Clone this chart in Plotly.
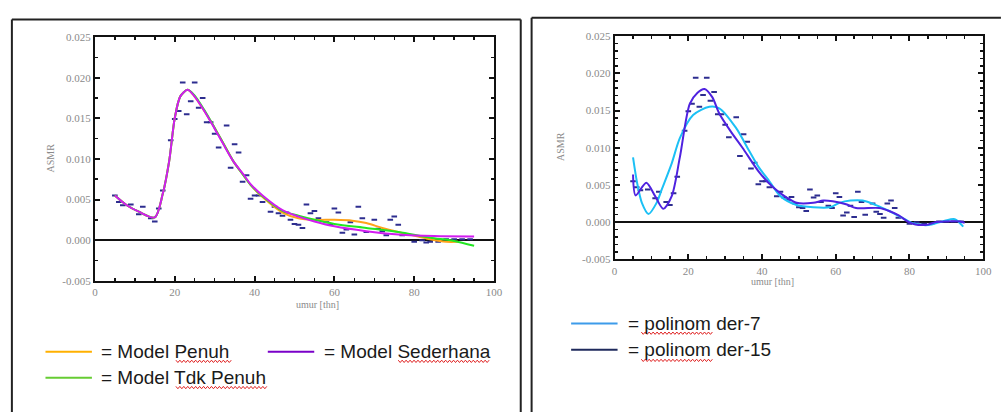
import plotly.graph_objects as go

W, H = 1004, 412

# ---------------- data ----------------
data_age = [5, 6, 7, 9, 11, 12, 14, 15, 16, 17, 19, 20, 21, 22, 23, 24, 25, 26, 27, 28, 29, 30,
            31, 33, 34, 35, 36, 37, 38, 39, 40, 41, 42, 44, 45, 46, 47, 48, 49, 50, 51, 52,
            53, 54, 55, 56, 58, 59, 60, 61, 62, 63, 64, 65, 66, 67, 68, 70, 71, 72, 73, 74,
            75, 76, 77, 80, 82, 83, 84, 86, 88, 90, 92, 94]
data_asmr = [0.0055, 0.0047, 0.0043, 0.0044, 0.0032, 0.0041, 0.0027, 0.0023, 0.0039, 0.0061,
             0.0123, 0.0149, 0.0159, 0.0194, 0.0155, 0.0171, 0.0194, 0.0163, 0.0175, 0.0145,
             0.0145, 0.0131, 0.0114, 0.0141, 0.0089, 0.0118, 0.0108, 0.0072, 0.0080, 0.0051,
             0.0055, 0.0055, 0.0047, 0.0035, 0.0041, 0.0033, 0.0030, 0.0034, 0.0025, 0.0020,
             0.0019, 0.0015, 0.0044, 0.0033, 0.0036, 0.0027, 0.0022, 0.0019, 0.0039, 0.0034,
             0.0009, 0.0013, 0.0022, 0.0007, 0.0041, 0.0027, 0.0010, 0.0025, 0.0014, 0.0011,
             0.0006, 0.0025, 0.0029, 0.0019, 0.0006, -0.0002, 0.0000, -0.0003, -0.0002,
             -0.0002, 0.0001, 0.0001, 0.0001, 0.0001]

sed_age = [5, 8, 11, 15, 17, 18.6, 20, 21.4, 23.2, 24.8, 27.3, 29.8, 32.3, 34.7, 37.2, 39, 42,
           47, 51, 55, 60, 68, 76, 85, 95]
sed_val = [0.0055, 0.0043, 0.0035, 0.0028, 0.0057, 0.0097, 0.0150, 0.0177, 0.0185, 0.0178,
           0.0160, 0.0139, 0.0117, 0.0097, 0.0081, 0.0069, 0.0055, 0.0037, 0.0029, 0.0023,
           0.0017, 0.0011, 0.0007, 0.0005, 0.00045]

pen_age = [5, 8, 11, 15, 17, 18.6, 20, 21.4, 23.2, 24.8, 27.3, 29.8, 32.3, 34.7, 37.2, 39, 42,
           47, 51, 55, 60, 64.5, 68, 72, 76, 81, 84, 88, 91]
pen_val = [0.0055, 0.0043, 0.0035, 0.0028, 0.0057, 0.0097, 0.0150, 0.0177, 0.0185, 0.0178,
           0.0160, 0.0140, 0.0118, 0.0097, 0.0080, 0.0068, 0.0053, 0.0034, 0.0027, 0.0025,
           0.0025, 0.0024, 0.0021, 0.0015, 0.0010, 0.00044, 0.0001, -0.0002, -0.0002]

tdk_age = [5, 8, 11, 15, 17, 18.6, 20, 21.4, 23.2, 24.8, 27.3, 29.8, 32.3, 34.7, 37.2, 39, 42,
           47, 51, 55, 60, 68, 76, 84, 90, 95]
tdk_val = [0.0055, 0.0043, 0.0035, 0.0028, 0.0057, 0.0097, 0.0150, 0.0177, 0.0185, 0.0179,
           0.0161, 0.0140, 0.0118, 0.0097, 0.0080, 0.0068, 0.0054, 0.0036, 0.0030, 0.0025,
           0.0020, 0.0015, 0.0010, 0.0003, -0.0001, -0.0007]

p15_age = [5, 5.7, 8.6, 11, 13.2, 15.5, 17.7, 20.4, 22.5, 24.4, 26.5, 28.4, 31.5, 34.7, 39.1,
           43, 46.7, 49.4, 53.9, 56.6, 59.2, 62.8, 65.5, 71.8, 74.5, 77.1, 79.8, 81.6, 85.2,
           87, 89.6, 93.7, 95]
p15_val = [0.0064, 0.0036, 0.0053, 0.0035, 0.0018, 0.0035, 0.0087, 0.0159, 0.0174, 0.0179,
           0.0168, 0.0146, 0.0122, 0.0100, 0.0068, 0.0047, 0.0033, 0.0026, 0.0026, 0.0029,
           0.0028, 0.0024, 0.0019, 0.0019, 0.0015, 0.0009, 0.0000, -0.0003, -0.0003, 0.0000,
           0.0001, 0.0001, -0.0001]

p7_age = [5, 6.1, 7.4, 9.2, 11.4, 12.8, 15.5, 17.7, 21.3, 25.7, 28.4, 32.9, 36.5, 39.1, 42,
          45, 49.4, 53.9, 58.4, 61, 64, 67.3, 70.9, 74.5, 78, 80.7, 84.3, 86, 89.6, 92.3, 94.6]
p7_val = [0.0087, 0.0053, 0.0026, 0.0011, 0.0026, 0.0044, 0.0079, 0.0113, 0.0144, 0.0155,
          0.0153, 0.0127, 0.0096, 0.0074, 0.0055, 0.0035, 0.0023, 0.0020, 0.0020, 0.0026,
          0.0029, 0.0029, 0.0023, 0.0015, 0.0006, -0.0001, -0.0004, -0.0003, 0.0002, 0.0004,
          -0.0006]

y_ticks = [-0.005, 0.0, 0.005, 0.010, 0.015, 0.020, 0.025]
y_ticktext = ["-0.005", "0.000", "0.005", "0.010", "0.015", "0.020", "0.025"]
x_ticks = [0, 20, 40, 60, 80, 100]

legend_left = [("= Model Penuh", "#ffb000"), ("= Model Sederhana", "#7a00c8"),
               ("= Model Tdk Penuh", "#66cc33")]
legend_right = [("= polinom der-7", "#3d9bea"), ("= polinom der-15", "#1f2a5c")]


# ---------------- helpers: page pixel -> paper ----------------
def px(x):
    return x / W


def py(y):
    return 1 - y / H


fig = go.Figure()
pt_marker = dict(symbol="line-ew", size=4, line=dict(width=2, color="#2d2d8f"))

fig.add_trace(go.Scatter(x=data_age, y=data_asmr, mode="markers", marker=pt_marker,
                         xaxis="x", yaxis="y", showlegend=False))
fig.add_trace(go.Scatter(x=pen_age, y=pen_val, mode="lines", line=dict(color="#ffa31a", width=2,
                         shape="spline", smoothing=0.8), xaxis="x", yaxis="y", showlegend=False))
fig.add_trace(go.Scatter(x=tdk_age, y=tdk_val, mode="lines", line=dict(color="#22e622", width=2,
                         shape="spline", smoothing=0.8), xaxis="x", yaxis="y", showlegend=False))
fig.add_trace(go.Scatter(x=sed_age, y=sed_val, mode="lines", line=dict(color="#d21cf0", width=2,
                         shape="spline", smoothing=0.8), xaxis="x", yaxis="y", showlegend=False))

fig.add_trace(go.Scatter(x=data_age, y=data_asmr, mode="markers", marker=pt_marker,
                         xaxis="x2", yaxis="y2", showlegend=False))
fig.add_trace(go.Scatter(x=p7_age, y=p7_val, mode="lines", line=dict(color="#1cc0f5", width=2,
                         shape="spline", smoothing=0.8), xaxis="x2", yaxis="y2", showlegend=False))
fig.add_trace(go.Scatter(x=p15_age, y=p15_val, mode="lines", line=dict(color="#4f22e0", width=2,
                         shape="spline", smoothing=0.8), xaxis="x2", yaxis="y2", showlegend=False))

tick_font = dict(family="Liberation Serif", size=11, color="#8a8a8a")


def xaxis_cfg(dom, anchor):
    return dict(domain=dom, anchor=anchor, range=[0, 100], tickvals=x_ticks,
                showline=True, linecolor="#111", linewidth=2, mirror="ticks",
                ticks="inside", ticklen=5, tickwidth=2, tickcolor="#111",
                minor=dict(dtick=5, ticks="inside", ticklen=3, tickwidth=1.5, tickcolor="#111"),
                showgrid=False, zeroline=False, tickfont=tick_font, fixedrange=True)


def yaxis_cfg(dom, anchor, minor_dtick):
    return dict(domain=dom, anchor=anchor, range=[-0.005, 0.025], tickvals=y_ticks,
                ticktext=y_ticktext, showline=True, linecolor="#111", linewidth=2,
                mirror="ticks", ticks="inside", ticklen=5, tickwidth=2, tickcolor="#111",
                minor=dict(dtick=minor_dtick, tick0=0, ticks="inside", ticklen=3, tickwidth=1.5,
                           tickcolor="#111"),
                showgrid=False, zeroline=True, zerolinecolor="#111", zerolinewidth=2,
                tickfont=tick_font, fixedrange=True)


# plot areas in page pixels
L = dict(x0=93, x1=497, y0=32, y1=283)
R = dict(x0=619, x1=992, y0=31, y1=261)

fig.update_layout(
    width=W, height=H, margin=dict(l=0, r=0, t=0, b=0),
    paper_bgcolor="white", plot_bgcolor="white", showlegend=False,
    xaxis=xaxis_cfg([px(L["x0"]), px(L["x1"])], "y"),
    yaxis=yaxis_cfg([py(L["y1"]), py(L["y0"])], "x", 0.0025),
    xaxis2=xaxis_cfg([px(R["x0"]), px(R["x1"])], "y2"),
    yaxis2=yaxis_cfg([py(R["y1"]), py(R["y0"])], "x2", 0.001),
)

shapes = []
ann = []
frame = dict(color="#222", width=2)
shapes += [
    dict(type="line", xref="paper", yref="paper", x0=px(9), x1=px(9), y0=py(14), y1=py(420), line=frame),
    dict(type="line", xref="paper", yref="paper", x0=px(9), x1=px(524), y0=py(14), y1=py(14), line=frame),
    dict(type="line", xref="paper", yref="paper", x0=px(524), x1=px(524), y0=py(14), y1=py(420), line=frame),
    dict(type="line", xref="paper", yref="paper", x0=px(535), x1=px(535), y0=py(12), y1=py(420), line=frame),
    dict(type="line", xref="paper", yref="paper", x0=px(535), x1=px(1010), y0=py(12), y1=py(12), line=frame),
]

title_font = dict(family="Liberation Serif", size=10, color="#8a8a8a")
ann += [
    dict(text="ASMR", x=px(40), y=py(157), xref="paper", yref="paper", showarrow=False,
         textangle=-90, font=title_font),
    dict(text="umur [thn]", x=px(295), y=py(315), xref="paper", yref="paper", showarrow=False,
         font=title_font),
    dict(text="ASMR", x=px(565), y=py(145), xref="paper", yref="paper", showarrow=False,
         textangle=-90, font=title_font),
    dict(text="umur [thn]", x=px(803), y=py(292), xref="paper", yref="paper", showarrow=False,
         font=title_font),
]

leg_font = dict(family="Liberation Sans", size=19, color="#1a1a1a")
leg_pos_left = [(43, 90, 97, 356), (268, 315, 323, 356), (43, 90, 97, 383)]
for (txt, col), (lx0, lx1, tx, yy) in zip(legend_left, leg_pos_left):
    shapes.append(dict(type="line", xref="paper", yref="paper", x0=px(lx0), x1=px(lx1),
                       y0=py(yy), y1=py(yy), line=dict(color=col, width=2)))
    ann.append(dict(text=txt, x=px(tx), y=py(yy), xref="paper", yref="paper", showarrow=False,
                    xanchor="left", yanchor="middle", font=leg_font))
leg_pos_right = [(575, 622, 631, 327), (575, 622, 631, 354)]
for (txt, col), (lx0, lx1, tx, yy) in zip(legend_right, leg_pos_right):
    shapes.append(dict(type="line", xref="paper", yref="paper", x0=px(lx0), x1=px(lx1),
                       y0=py(yy), y1=py(yy), line=dict(color=col, width=2)))
    ann.append(dict(text=txt, x=px(tx), y=py(yy), xref="paper", yref="paper", showarrow=False,
                    xanchor="left", yanchor="middle", font=leg_font))


# red spell-check squiggles
def squiggle(x0, x1, y):
    pts = []
    x = x0
    up = True
    while x <= x1:
        pts.append((x, y - 1.2 if up else y + 1.2))
        up = not up
        x += 2
    d = "M " + " L ".join(f"{px(a):.5f},{py(b):.5f}" for a, b in pts)
    return dict(type="path", xref="paper", yref="paper", path=d, line=dict(color="#e02020", width=1))


for (a, b, y) in [(175, 232, 366), (400, 493, 366), (175, 268, 393), (646, 719, 337), (646, 719, 365)]:
    shapes.append(squiggle(a, b, y))

fig.update_layout(shapes=shapes, annotations=ann)
fig.write_html(
    "out.html",
    config={"displayModeBar": False, "staticPlot": True},
    post_script="document.body.style.margin='0';document.body.style.overflow='hidden';",
)
